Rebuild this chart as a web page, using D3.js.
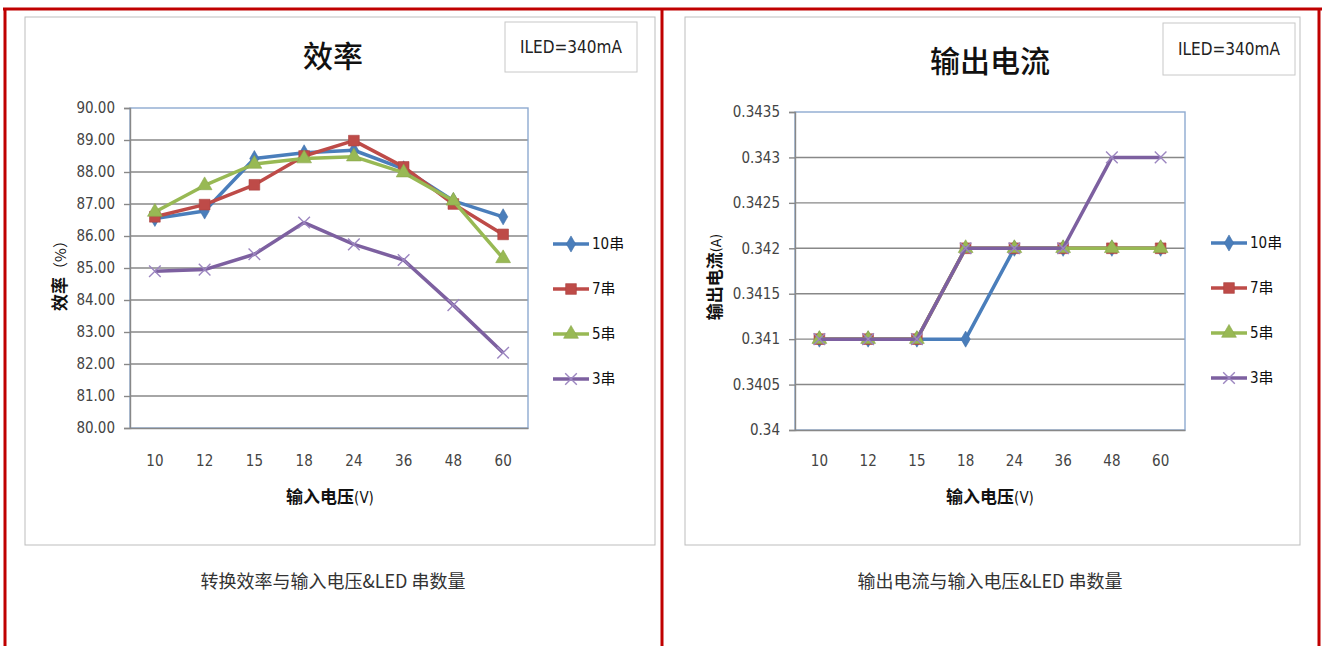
<!DOCTYPE html>
<html>
<head>
<meta charset="utf-8">
<script src="https://cdn.jsdelivr.net/npm/d3@7"></script>
<style>
  html, body { margin: 0; padding: 0; background: #fff; }
  svg { display: block; }
  .num { font-family: "Liberation Sans Narrow", "DejaVu Sans Condensed", "DejaVu Sans", sans-serif; font-stretch: condensed; }
  .cjk { font-family: "Noto Sans CJK SC", "Noto Sans", sans-serif; }
</style>
</head>
<body>
<svg id="page" width="1322" height="646"></svg>
<script>
// Input voltage categories (V) shared by both charts
const voltages = ["10", "12", "15", "18", "24", "36", "48", "60"];
const seriesNames = ["10串", "7串", "5串", "3串"];

// Conversion efficiency (%) per LED string count
const eff10 = [86.55, 86.78, 88.42, 88.60, 88.68, 88.10, 87.10, 86.60];
const eff7  = [86.60, 86.98, 87.60, 88.50, 88.98, 88.16, 87.00, 86.05];
const eff5  = [86.75, 87.58, 88.25, 88.42, 88.48, 87.98, 87.10, 85.30];
const eff3  = [84.90, 84.95, 85.43, 86.42, 85.74, 85.25, 83.84, 82.35];
const effTicks = [80, 81, 82, 83, 84, 85, 86, 87, 88, 89, 90];

// Output current (A) per LED string count
const cur10 = [0.341, 0.341, 0.341, 0.341, 0.342, 0.342, 0.342, 0.342];
const cur7  = [0.341, 0.341, 0.341, 0.342, 0.342, 0.342, 0.342, 0.342];
const cur5  = [0.341, 0.341, 0.341, 0.342, 0.342, 0.342, 0.342, 0.342];
const cur3  = [0.341, 0.341, 0.341, 0.342, 0.342, 0.342, 0.343, 0.343];
const curTicks = [0.34, 0.3405, 0.341, 0.3415, 0.342, 0.3425, 0.343, 0.3435];

const colors = ["#4a7ebb", "#be4b48", "#98b954", "#7d60a0"];
const markerTypes = [d3.symbolDiamond, d3.symbolSquare, d3.symbolTriangle, d3.symbolTimes || d3.symbolX];
const markerSizes = [75, 115, 95, 90];

const svg = d3.select("#page");

// Outer red frame and divider
const red = "#c00000";
svg.append("line").attr("x1", 3).attr("x2", 1322).attr("y1", 9).attr("y2", 9).attr("stroke", red).attr("stroke-width", 3);
svg.append("line").attr("x1", 5).attr("x2", 5).attr("y1", 8).attr("y2", 646).attr("stroke", red).attr("stroke-width", 3);
svg.append("line").attr("x1", 662).attr("x2", 662).attr("y1", 8).attr("y2", 646).attr("stroke", red).attr("stroke-width", 3);
svg.append("line").attr("x1", 1319).attr("x2", 1319).attr("y1", 8).attr("y2", 646).attr("stroke", red).attr("stroke-width", 3);

function drawMarker(g, i, x, y) {
  const sym = d3.symbol().type(markerTypes[i]).size(markerSizes[i]);
  const p = g.append("path").attr("d", sym()).attr("transform", `translate(${x},${y})`);
  if (i === 3) {
    p.attr("fill", "none").attr("stroke", "#9c86c0").attr("stroke-width", 1.4);
  } else {
    p.attr("fill", colors[i]).attr("stroke", d3.color(colors[i]).darker(0.3)).attr("stroke-width", 0.6);
  }
}

function drawChart(cfg) {
  const g = svg.append("g");

  // chart frame
  g.append("rect").attr("x", cfg.frame[0]).attr("y", cfg.frame[1])
    .attr("width", cfg.frame[2]).attr("height", cfg.frame[3])
    .attr("fill", "#fff").attr("stroke", "#bdbdbd").attr("stroke-width", 1);

  // title
  g.append("text").attr("class", "cjk").attr("x", cfg.titleX).attr("y", cfg.titleY)
    .attr("text-anchor", "middle").attr("font-size", 30).attr("font-weight", 500)
    .attr("fill", "#111").text(cfg.title);

  // ILED note box
  g.append("rect").attr("x", cfg.note[0]).attr("y", cfg.note[1]).attr("width", cfg.note[2]).attr("height", cfg.note[3])
    .attr("fill", "#fff").attr("stroke", "#c8c8c8");
  g.append("text").attr("class", "num").attr("x", cfg.note[0] + cfg.note[2] / 2).attr("y", cfg.note[1] + cfg.note[3] / 2 + 6)
    .attr("text-anchor", "middle").attr("font-size", 17).attr("fill", "#222").text("ILED=340mA");

  const x = d3.scaleBand().domain(voltages).range([cfg.plot.x0, cfg.plot.x1]);
  const y = d3.scaleLinear().domain([cfg.yTicks[0], cfg.yTicks[cfg.yTicks.length - 1]]).range([cfg.plot.y1, cfg.plot.y0]);

  // horizontal gridlines
  g.append("g").selectAll("line").data(cfg.yTicks.slice(1, -1)).join("line")
    .attr("x1", cfg.plot.x0).attr("x2", cfg.plot.x1)
    .attr("y1", d => y(d)).attr("y2", d => y(d))
    .attr("stroke", "#888").attr("stroke-width", 1.4);

  // plot area border (top/right bluish)
  g.append("rect").attr("x", cfg.plot.x0).attr("y", cfg.plot.y0)
    .attr("width", cfg.plot.x1 - cfg.plot.x0).attr("height", cfg.plot.y1 - cfg.plot.y0)
    .attr("fill", "none").attr("stroke", "#8eaad0").attr("stroke-width", 1.4);

  // y axis
  const yAxis = d3.axisLeft(y).tickValues(cfg.yTicks).tickSize(6).tickPadding(9).tickFormat(cfg.yFormat);
  const ya = g.append("g").attr("transform", `translate(${cfg.plot.x0},0)`).call(yAxis);
  ya.select(".domain").attr("stroke", "#888").attr("stroke-width", 1.4);
  ya.selectAll(".tick line").attr("stroke", "#888").attr("stroke-width", 1.4);
  ya.selectAll(".tick text").attr("class", "num").attr("font-size", 15).attr("fill", "#444");

  // bottom axis
  const xAxis = d3.axisBottom(x).tickSize(0).tickPadding(cfg.xPad);
  const xa = g.append("g").attr("transform", `translate(0,${cfg.plot.y1})`).call(xAxis);
  xa.select(".domain").attr("stroke", "#888").attr("stroke-width", 1.4);
  xa.selectAll(".tick text").attr("class", "num").attr("font-size", 15).attr("fill", "#444");

  // x axis title
  const xt = g.append("text").attr("x", cfg.xTitle[0]).attr("y", cfg.xTitle[1]).attr("text-anchor", "middle").attr("fill", "#111");
  xt.append("tspan").attr("class", "cjk").attr("font-size", 17).attr("font-weight", 700).text("输入电压");
  xt.append("tspan").attr("class", "num").attr("font-size", 15).text("(V)");

  // y axis title
  const yt = g.append("text").attr("transform", `translate(${cfg.yTitle[0]},${cfg.yTitle[1]}) rotate(-90)`)
    .attr("text-anchor", "middle").attr("fill", "#111");
  yt.append("tspan").attr("class", "cjk").attr("font-size", 17).attr("font-weight", 700).text(cfg.yLabel);
  yt.append("tspan").attr("class", cfg.yUnitClass).attr("font-size", cfg.yUnitSize).attr("font-weight", cfg.yUnitWeight).text(cfg.yUnit);

  // series lines and markers
  const line = d3.line().x((d, i) => x(voltages[i]) + x.bandwidth() / 2).y(d => y(d));
  cfg.series.forEach((vals, i) => {
    g.append("path").datum(vals).attr("d", line).attr("fill", "none")
      .attr("stroke", colors[i]).attr("stroke-width", 3.5).attr("stroke-linejoin", "round");
    vals.forEach((v, j) => drawMarker(g, i, x(voltages[j]) + x.bandwidth() / 2, y(v)));
  });

  // legend
  seriesNames.forEach((name, i) => {
    const ly = cfg.legend[1] + i * 45;
    g.append("line").attr("x1", cfg.legend[0]).attr("x2", cfg.legend[0] + 36)
      .attr("y1", ly).attr("y2", ly).attr("stroke", colors[i]).attr("stroke-width", 3.5);
    drawMarker(g, i, cfg.legend[0] + 18, ly);
    const t = g.append("text").attr("x", cfg.legend[0] + 39).attr("y", ly + 5).attr("fill", "#111");
    t.append("tspan").attr("class", "num").attr("font-size", 15).text(name.replace("串", ""));
    t.append("tspan").attr("class", "cjk").attr("font-size", 15).text("串");
  });

  // caption below the chart
  g.append("text").attr("class", "cjk").attr("x", cfg.caption[0]).attr("y", cfg.caption[1])
    .attr("text-anchor", "middle").attr("font-size", 18).attr("font-weight", 400)
    .attr("fill", "#333").text(cfg.captionText);
}

drawChart({
  frame: [25, 17, 630, 528],
  title: "效率", titleX: 333, titleY: 67,
  note: [505, 22, 132, 50],
  plot: { x0: 130, x1: 528, y0: 108, y1: 428 },
  yTicks: effTicks, yFormat: d3.format(".2f"),
  xPad: 27,
  xTitle: [330, 503],
  yTitle: [66, 272], yLabel: "效率", yUnit: "（%）", yUnitClass: "cjk", yUnitSize: 15, yUnitWeight: 400,
  series: [eff10, eff7, eff5, eff3],
  legend: [553, 244],
  caption: [333, 588], captionText: "转换效率与输入电压&LED 串数量"
});

drawChart({
  frame: [685, 17, 615, 528],
  title: "输出电流", titleX: 990, titleY: 72,
  note: [1163, 23, 132, 52],
  plot: { x0: 795, x1: 1185, y0: 112, y1: 430 },
  yTicks: curTicks, yFormat: d => String(+d.toFixed(4)),
  xPad: 25,
  xTitle: [990, 503],
  yTitle: [721, 277], yLabel: "输出电流", yUnit: "(A)", yUnitClass: "num", yUnitSize: 14, yUnitWeight: 400,
  series: [cur10, cur7, cur5, cur3],
  legend: [1211, 243],
  caption: [990, 588], captionText: "输出电流与输入电压&LED 串数量"
});
</script>
</body>
</html>
